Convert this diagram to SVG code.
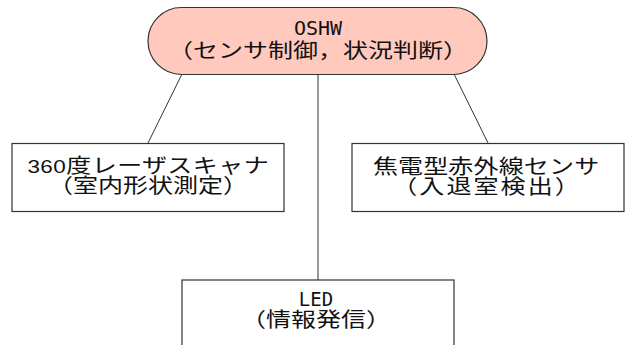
<svg xmlns="http://www.w3.org/2000/svg" width="626" height="345" viewBox="0 0 626 345">
<style>
.box{fill:#fff;stroke:#333;stroke-width:1.2}
.pill{fill:#ffc9bd;stroke:#333;stroke-width:1.2}
.ln{stroke:#333;stroke-width:1;fill:none}
text{font-family:"Liberation Sans","Noto Sans CJK JP",sans-serif;font-size:20px;fill:#111;text-anchor:middle}
.mono{font-family:"DejaVu Sans Mono","Noto Sans CJK JP",monospace;font-size:20px}
.sm{font-size:19px}
.dg{font-size:18px}
</style>
<rect width="626" height="345" fill="#fff"/>
<g id="connectors">
<line class="ln" x1="182" y1="74" x2="148" y2="143"/>
<line class="ln" x1="318" y1="75" x2="318" y2="280"/>
<line class="ln" x1="454" y1="74" x2="488" y2="143"/>
</g>
<g id="oshw">
<rect class="pill" x="148" y="7.5" width="339" height="67" rx="33.5"/>
<text class="mono" x="318" y="35">OSHW</text>
<text transform="translate(318,58) scale(1.25,1)" x="0" y="0" textLength="240" lengthAdjust="spacing">（センサ制御，状況判断）</text>
</g>
<g id="laser">
<rect class="box" x="12" y="143.5" width="272" height="68"/>
<text transform="translate(148,173) scale(1.25,1)" x="0" y="0" textLength="193" lengthAdjust="spacing"><tspan class="dg">360</tspan>度レーザスキャナ</text>
<text transform="translate(148,193) scale(1.25,1)" x="0" y="0" textLength="160" lengthAdjust="spacing">（室内形状測定）</text>
</g>
<g id="pir">
<rect class="box" x="352" y="143.5" width="272" height="68"/>
<text transform="translate(486,174) scale(1.25,1)" x="0" y="0" textLength="181" lengthAdjust="spacing">焦電型赤外線センサ</text>
<text transform="translate(486,194) scale(1.25,1)" x="0" y="0" textLength="150" lengthAdjust="spacing">（入退室検出）</text>
</g>
<g id="led">
<rect class="box" x="182" y="280" width="272" height="80"/>
<text class="mono sm" x="316" y="306">LED</text>
<text transform="translate(316,327) scale(1.25,1)" x="0" y="0" textLength="120" lengthAdjust="spacing">（情報発信）</text>
</g>
</svg>
